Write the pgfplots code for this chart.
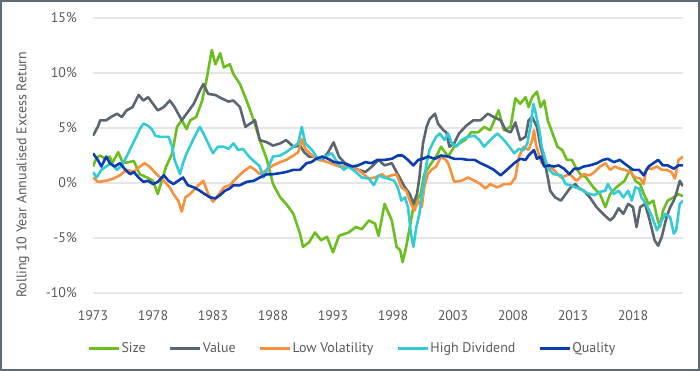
\documentclass[border=0pt]{standalone}
\usepackage{pgfplots}
\pgfplotsset{compat=1.18}
\usepackage{fontspec}
\setmainfont{PT Sans}
\definecolor{cSize}{HTML}{6ABF1E}
\definecolor{cValue}{HTML}{5B6670}
\definecolor{cLowVol}{HTML}{F7913D}
\definecolor{cHighDiv}{HTML}{33CCD6}
\definecolor{cQual}{HTML}{0A3DAF}
\definecolor{txt}{HTML}{595959}
\definecolor{framecol}{HTML}{5F6B74}
\definecolor{gridcol}{HTML}{E5E5E5}
\begin{document}
\begin{tikzpicture}
\useasboundingbox (-93bp,-78bp) rectangle (607bp,293bp);
\begin{axis}[
  at={(0,0)}, anchor=south west,
  scale only axis, width=590bp, height=275bp,
  xmin=1973, xmax=2022.17, ymin=-10, ymax=15,
  axis line style={draw=none}, tick style={draw=none},
  ymajorgrids, grid style={gridcol, line width=1.6bp},
  ytick={-10,-5,0,5,10,15},
  yticklabels={-10\%,-5\%,0\%,5\%,10\%,15\%},
  xtick={1973,1978,1983,1988,1993,1998,2003,2008,2013,2018},
  xticklabels={1973,1978,1983,1988,1993,1998,2003,2008,2013,2018},
  every tick label/.append style={font=\fontsize{14}{16}\selectfont, text=txt, inner sep=0pt},
  yticklabel style={anchor=east, xshift=-16bp},
  xticklabel style={anchor=base, yshift=-27bp},
  ylabel={Rolling 10 Year Annualised Excess Return},
  every axis y label/.style={at={(axis description cs:0,0.43)}, xshift=-70bp, rotate=90, anchor=center, font=\fontsize{14}{16}\selectfont, text=txt},
  legend columns=5,
  legend style={at={(axis description cs:0.439,0)}, anchor=center, yshift=-55bp, draw=none, fill=none,
    font=\fontsize{14}{16}\selectfont, text=txt, nodes={inner sep=1bp},
    /tikz/every even column/.append style={column sep=22bp}},
  legend image code/.code={\draw[#1, line width=3bp] (0bp,0bp) -- (30bp,0bp);},
  every axis plot/.append style={line width=2.6bp, line join=round},
]
\addplot[cSize] coordinates {
(1973.0,1.5)(1973.3,2.3)(1973.6,2.5)(1974.0,2.2)(1974.4,2.4)(1974.6,1.8)(1975.1,2.8)(1975.5,1.8)(1976.0,1.9)(1976.4,2.0)(1976.9,0.8)(1977.5,0.5)(1978.0,0.2)(1978.4,-1.0)(1978.7,0.1)(1979.1,1.5)(1979.6,2.7)(1980.0,5.1)(1980.4,5.7)(1980.8,4.9)(1981.1,5.7)(1981.6,6.0)(1982.1,7.5)(1982.5,9.6)(1982.9,12.1)(1983.2,10.8)(1983.6,11.8)(1983.9,10.5)(1984.4,10.8)(1984.7,9.9)(1985.25,9.0)(1985.8,7.5)(1986.4,5.7)(1986.9,3.9)(1987.5,2.1)(1988.0,-0.1)(1988.6,-1.3)(1989.1,-1.9)(1989.7,-2.8)(1990.25,-4.6)(1990.5,-5.8)(1991.0,-5.4)(1991.5,-4.5)(1992.0,-5.2)(1992.5,-4.9)(1993.0,-6.3)(1993.5,-4.8)(1994.3,-4.5)(1994.9,-4.0)(1995.4,-4.2)(1996.0,-3.4)(1996.5,-3.7)(1996.8,-4.8)(1997.3,-1.9)(1997.9,-3.4)(1998.3,-5.8)(1998.6,-6.1)(1998.8,-7.2)(1999.1,-5.8)(1999.4,-4.0)(1999.7,-2.2)(2000.0,-1.6)(2000.3,-1.0)(2000.6,0.8)(2001.2,1.8)(2001.75,2.7)(2002.0,3.3)(2002.6,2.4)(2003.1,3.3)(2004.0,3.9)(2004.5,4.6)(2005.1,4.6)(2005.6,5.1)(2006.1,4.8)(2006.8,6.6)(2007.25,4.8)(2007.8,5.1)(2008.2,7.7)(2008.6,7.2)(2009.05,7.8)(2009.3,6.9)(2009.6,7.8)(2010.0,8.3)(2010.3,6.9)(2010.6,7.5)(2010.9,5.7)(2011.3,4.5)(2011.7,3.3)(2012.1,3.0)(2012.5,2.1)(2012.9,2.1)(2013.2,1.5)(2013.6,0.8)(2014.1,0.5)(2014.7,-0.4)(2015.25,-1.0)(2015.7,-2.2)(2016.1,-1.0)(2016.6,-0.4)(2017.3,0.2)(2017.75,1.2)(2018.2,0.2)(2018.6,-0.1)(2018.9,-1.0)(2019.3,-1.9)(2019.7,-1.6)(2020.0,-3.1)(2020.25,-4.0)(2020.5,-2.5)(2020.9,-1.6)(2021.4,-1.3)(2021.8,-1.0)(2022.17,-1.2)
};
\addlegendentry{Size}
\addplot[cValue] coordinates {
(1973.0,4.3)(1973.4,5.1)(1973.6,5.7)(1974.1,5.7)(1974.5,6.0)(1975.0,6.3)(1975.4,6.0)(1975.8,6.6)(1976.3,6.9)(1976.8,8.0)(1977.2,7.5)(1977.6,7.8)(1978.0,7.2)(1978.4,6.6)(1978.9,6.9)(1979.4,7.5)(1979.8,6.9)(1980.4,5.7)(1980.8,6.3)(1981.4,7.2)(1981.9,8.4)(1982.2,9.0)(1982.6,8.1)(1983.2,8.0)(1983.7,7.7)(1984.3,7.4)(1984.7,7.5)(1985.25,6.9)(1985.7,5.1)(1986.1,5.4)(1986.5,5.7)(1986.9,3.9)(1987.5,3.7)(1988.0,3.4)(1988.6,3.6)(1989.1,3.9)(1989.7,3.3)(1990.25,3.4)(1990.6,2.8)(1991.0,2.4)(1991.5,2.4)(1992.1,2.1)(1992.6,2.8)(1993.05,3.7)(1993.5,2.4)(1994.0,1.8)(1994.6,1.5)(1995.1,1.2)(1995.7,1.0)(1996.25,1.5)(1996.8,2.1)(1997.3,1.6)(1997.9,1.8)(1998.4,0.8)(1999.0,-0.4)(1999.4,-1.0)(1999.7,-1.9)(2000.0,-1.0)(2000.2,0.5)(2000.5,3.6)(2000.8,5.1)(2001.05,5.8)(2001.5,6.3)(2001.75,5.4)(2002.2,4.8)(2002.45,4.6)(2002.7,3.3)(2003.1,3.6)(2003.5,4.5)(2004.1,5.2)(2004.7,5.7)(2005.3,5.7)(2005.9,6.3)(2006.4,6.0)(2006.97,5.7)(2007.4,4.8)(2007.8,4.6)(2008.2,5.5)(2008.6,3.9)(2009.05,4.2)(2009.3,5.7)(2009.6,6.0)(2010.0,5.1)(2010.3,3.3)(2010.6,2.1)(2010.9,0.5)(2011.1,-0.7)(2011.5,-1.3)(2012.0,-1.6)(2012.4,-1.0)(2012.8,-0.4)(2013.2,-0.1)(2013.5,-0.5)(2013.9,-0.7)(2014.4,-1.3)(2014.97,-2.2)(2015.5,-2.8)(2016.1,-3.4)(2016.4,-3.1)(2016.8,-2.3)(2017.2,-2.8)(2017.6,-1.9)(2018.0,-2.2)(2018.3,-4.0)(2018.6,-2.2)(2019.0,-1.9)(2019.4,-3.4)(2019.8,-5.2)(2020.1,-5.7)(2020.4,-4.9)(2020.8,-3.1)(2021.1,-2.2)(2021.4,-1.6)(2021.6,-1.0)(2021.9,0.2)(2022.17,-0.3)
};
\addlegendentry{Value}
\addplot[cLowVol] coordinates {
(1973.0,0.5)(1973.4,0.1)(1974.1,0.2)(1974.7,0.4)(1975.25,0.7)(1975.8,1.2)(1976.4,1.0)(1976.9,1.5)(1977.3,1.8)(1977.7,1.5)(1978.3,0.8)(1978.9,0.2)(1979.4,-0.4)(1979.7,-1.0)(1980.1,-1.6)(1980.4,-2.6)(1980.7,-1.3)(1981.1,-1.0)(1981.6,-0.4)(1982.2,0.2)(1982.6,-1.0)(1983.0,-1.7)(1983.5,-1.0)(1983.9,-0.4)(1984.4,-0.2)(1985.0,0.5)(1985.5,1.0)(1986.1,1.5)(1986.5,1.2)(1986.9,0.8)(1987.5,1.2)(1988.0,1.6)(1988.6,1.9)(1989.1,2.1)(1989.7,2.5)(1990.1,2.8)(1990.4,4.0)(1990.7,3.1)(1991.25,2.5)(1991.8,2.1)(1992.6,1.9)(1993.5,1.5)(1994.3,1.5)(1995.1,1.2)(1996.0,0.4)(1996.5,0.5)(1997.1,0.8)(1997.4,0.5)(1997.9,0.7)(1998.3,0.8)(1998.7,-0.4)(1999.1,-0.7)(1999.5,-1.9)(1999.8,-2.5)(2000.1,-1.6)(2000.4,-2.2)(2000.6,-0.4)(2000.9,0.8)(2001.2,1.2)(2001.6,1.5)(2002.0,2.4)(2002.4,2.1)(2002.6,1.8)(2002.9,0.8)(2003.1,0.1)(2003.7,0.2)(2004.25,0.5)(2004.8,0.2)(2005.3,-0.1)(2005.7,-0.5)(2006.1,-0.1)(2006.7,-0.4)(2007.25,-0.1)(2007.8,-0.1)(2008.2,0.5)(2008.5,2.4)(2008.9,3.3)(2009.3,3.0)(2009.6,3.9)(2009.75,4.8)(2009.9,3.6)(2010.2,2.4)(2010.4,1.8)(2010.9,1.5)(2011.4,1.2)(2012.0,0.5)(2012.5,0.7)(2012.75,0.8)(2013.3,0.2)(2013.9,0.8)(2014.4,0.7)(2014.8,1.0)(2015.25,1.5)(2015.7,1.8)(2016.1,1.2)(2016.5,1.5)(2016.9,1.3)(2017.3,1.2)(2017.75,1.0)(2018.2,0.5)(2018.6,0.4)(2018.9,-0.1)(2019.1,1.3)(2019.6,1.3)(2020.0,1.5)(2020.4,1.2)(2020.8,1.2)(2021.2,1.0)(2021.5,0.4)(2021.8,2.1)(2022.17,2.4)
};
\addlegendentry{Low Volatility}
\addplot[cHighDiv] coordinates {
(1973.0,1.0)(1973.3,0.5)(1973.7,1.2)(1974.1,1.5)(1974.5,1.8)(1975.0,1.2)(1975.4,1.6)(1975.8,2.4)(1976.2,3.3)(1976.6,4.2)(1976.9,4.9)(1977.2,5.4)(1977.6,5.2)(1977.9,4.9)(1978.2,4.3)(1978.6,4.2)(1979.0,4.2)(1979.3,4.2)(1979.6,3.3)(1979.8,2.1)(1980.25,0.8)(1980.5,1.8)(1980.8,2.7)(1981.2,3.6)(1981.6,4.5)(1981.9,5.1)(1982.2,4.5)(1982.6,3.6)(1983.0,2.7)(1983.4,3.3)(1983.9,3.3)(1984.3,3.1)(1984.7,3.6)(1985.1,3.0)(1985.5,3.1)(1986.0,2.4)(1986.6,1.8)(1986.9,1.5)(1987.2,0.5)(1987.5,1.2)(1988.0,2.4)(1988.6,2.5)(1989.1,2.8)(1989.7,3.3)(1990.1,3.6)(1990.4,5.1)(1990.7,3.6)(1991.25,3.0)(1991.8,2.1)(1992.3,2.4)(1992.9,2.7)(1993.4,1.8)(1993.9,1.2)(1994.3,1.5)(1994.9,1.0)(1995.4,0.5)(1996.0,0.4)(1996.4,-0.2)(1996.8,0.7)(1997.2,0.5)(1997.6,0.4)(1998.1,0.2)(1998.4,-0.4)(1998.7,-1.6)(1999.0,-1.3)(1999.25,-2.2)(1999.5,-4.6)(1999.7,-5.8)(1999.95,-4.0)(2000.2,-2.8)(2000.5,-0.4)(2000.8,1.8)(2001.05,3.0)(2001.3,3.6)(2001.6,4.2)(2001.9,4.5)(2002.3,3.9)(2002.6,4.5)(2002.9,3.6)(2003.3,3.3)(2003.7,3.9)(2004.25,4.2)(2004.8,4.3)(2005.2,3.9)(2005.6,3.3)(2006.1,3.9)(2006.7,4.5)(2007.25,3.9)(2007.7,3.3)(2008.1,2.7)(2008.5,3.1)(2008.9,3.0)(2009.2,3.6)(2009.5,5.4)(2009.7,7.2)(2009.9,6.3)(2010.2,4.8)(2010.4,3.3)(2010.7,2.1)(2011.0,1.2)(2011.4,0.8)(2012.0,0.7)(2012.4,-0.1)(2012.8,-0.2)(2013.2,-0.4)(2013.6,-0.5)(2014.0,-0.8)(2014.4,-1.0)(2014.8,-1.1)(2015.25,-0.8)(2015.7,-0.7)(2015.9,-0.1)(2016.4,-1.0)(2016.8,-0.7)(2017.2,-1.3)(2017.6,-0.7)(2017.9,-1.6)(2018.2,-0.4)(2018.5,-0.5)(2018.7,-1.3)(2019.1,-1.9)(2019.6,-3.1)(2020.0,-4.3)(2020.25,-3.7)(2020.7,-2.8)(2021.1,-3.1)(2021.4,-4.6)(2021.6,-4.3)(2021.9,-1.9)(2022.17,-1.6)
};
\addlegendentry{High Dividend}
\addplot[cQual] coordinates {
(1973.0,2.7)(1973.4,2.1)(1973.7,1.5)(1974.1,2.4)(1974.4,1.8)(1974.8,1.5)(1975.25,1.8)(1975.7,1.2)(1976.1,0.8)(1976.4,1.0)(1976.8,0.5)(1977.2,0.1)(1977.6,0.2)(1978.0,-0.1)(1978.4,0.1)(1978.9,0.7)(1979.3,0.2)(1979.7,-0.1)(1980.1,0.2)(1980.5,0.5)(1980.9,-0.2)(1981.4,-0.4)(1981.9,-0.7)(1982.3,-1.0)(1982.75,-1.3)(1983.2,-1.4)(1983.6,-1.1)(1984.0,-0.7)(1984.4,-0.5)(1984.7,-0.2)(1985.25,-0.2)(1985.8,0.1)(1986.4,0.2)(1986.9,0.5)(1987.5,0.8)(1988.0,0.8)(1988.6,0.9)(1989.1,1.0)(1989.7,1.2)(1990.25,1.2)(1990.8,1.8)(1991.2,1.9)(1991.6,2.2)(1992.1,2.4)(1992.6,2.2)(1993.1,1.9)(1993.9,1.8)(1994.6,1.5)(1995.1,1.6)(1995.7,1.9)(1996.2,1.8)(1996.7,2.1)(1997.3,2.1)(1997.9,2.2)(1998.4,2.5)(1998.8,2.5)(1999.25,2.1)(1999.7,1.6)(2000.1,2.1)(2000.5,2.2)(2000.9,2.4)(2001.5,2.2)(2002.0,2.5)(2002.6,2.4)(2003.1,2.2)(2003.7,2.2)(2004.25,2.1)(2004.8,2.1)(2005.3,1.8)(2005.9,1.5)(2006.4,1.2)(2006.97,0.7)(2007.5,1.2)(2008.1,1.8)(2008.6,2.2)(2009.05,2.1)(2009.3,2.5)(2009.75,3.0)(2010.0,2.2)(2010.3,2.4)(2010.6,1.5)(2011.0,1.6)(2011.4,1.5)(2011.8,1.6)(2012.25,1.3)(2012.7,0.8)(2013.1,1.3)(2013.5,1.3)(2013.9,1.5)(2014.4,1.6)(2015.0,1.8)(2015.5,2.1)(2015.9,2.2)(2016.4,1.9)(2016.9,2.1)(2017.5,1.6)(2018.0,1.2)(2018.5,1.2)(2018.9,0.7)(2019.3,1.5)(2019.7,1.8)(2020.1,2.1)(2020.5,1.6)(2020.9,1.6)(2021.4,1.3)(2021.8,1.6)(2022.17,1.6)
};
\addlegendentry{Quality}
\end{axis}
\draw[framecol, line width=2bp] (-92bp,-77bp) rectangle (606bp,292bp);
\end{tikzpicture}
\end{document}
